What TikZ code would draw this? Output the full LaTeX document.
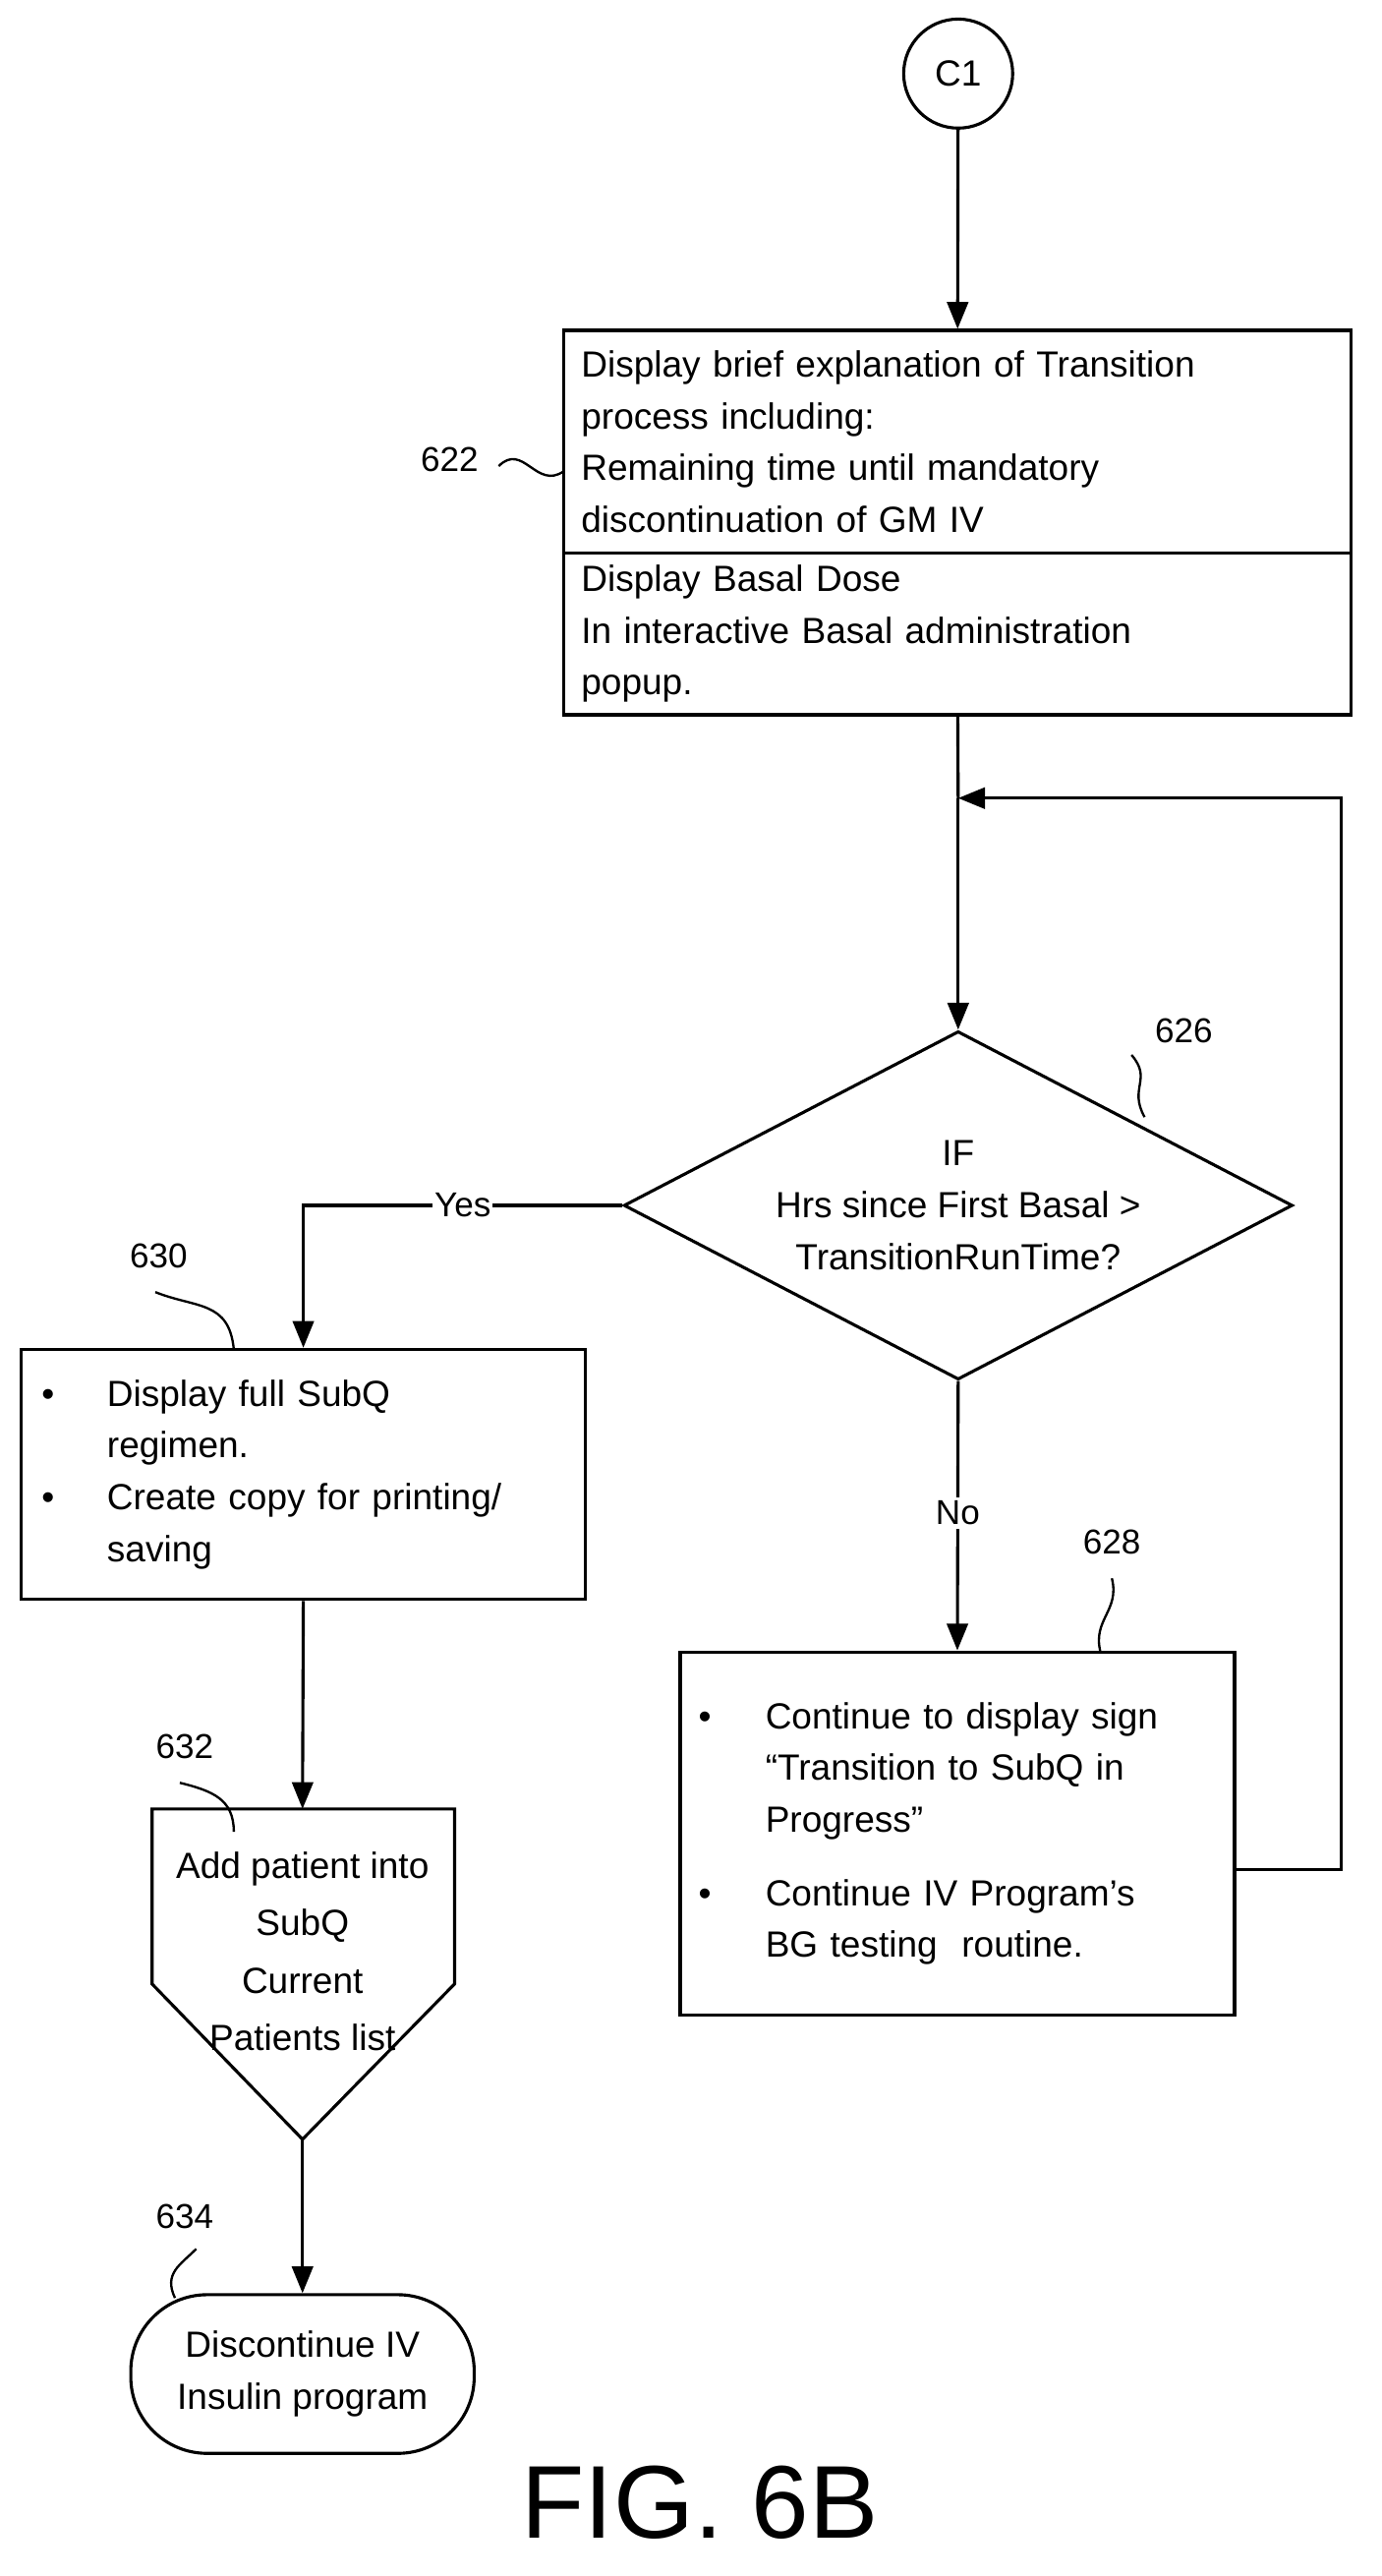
\documentclass[tikz,border=0pt]{standalone}
\usepackage{fontspec}
\setmainfont{Liberation Sans}
\usetikzlibrary{positioning}
\usetikzlibrary{arrows.meta}
\usetikzlibrary{shapes.geometric}
\tikzset{
  % plain process box
  procbox/.style={draw, line width=1.6pt, align=left, inner sep=0pt, font=\fontsize{19}{27}\selectfont},
  flow/.style={line width=1.6pt, -{Triangle[length=14pt,width=11pt]}},
  tag/.style={font=\fontsize{18}{22}\selectfont},
  squig/.style={line width=1.2pt},
}
\begin{document}
\begin{tikzpicture}[x=0.03cm, y=-0.03cm]
  \useasboundingbox (0,0) rectangle (845,1575);
  \node[draw, circle, line width=1.6pt, minimum size=2cm, font=\fontsize{19}{22}\selectfont] (c1) at (586,45) {C1};

  \node[procbox, minimum width=14.43cm, minimum height=4.08cm, text width=13.8cm] (info) at (585.5,270)
    {Display brief explanation of Transition\\process including:\\Remaining time until mandatory\\discontinuation of GM IV};
  \node[procbox, minimum width=14.43cm, minimum height=2.97cm, text width=13.8cm] (basal) at (585.5,387.5)
    {Display Basal Dose\\In interactive Basal administration\\popup.};

  \node[draw, diamond, line width=1.6pt, minimum width=12.27cm, minimum height=6.39cm, inner sep=0pt] (test) at (586,737) {};
  \node[align=center, font=\fontsize{19}{27}\selectfont] (testtxt) at (586,737) {IF\\Hrs since First Basal >\\TransitionRunTime?};

  \node[procbox, minimum width=10.35cm, minimum height=4.59cm, text width=9.6cm] (full) at (185.5,901.5)
    {\makebox[1.2cm][l]{\textbullet}Display full SubQ\\\makebox[1.2cm][l]{}regimen.\\
     \makebox[1.2cm][l]{\textbullet}Create copy for printing/\\\makebox[1.2cm][l]{}saving};
  \node[procbox, minimum width=10.17cm, minimum height=6.66cm, text width=9.5cm] (cont) at (585.5,1121)
    {\makebox[1.23cm][l]{\textbullet}Continue to display sign\\\makebox[1.23cm][l]{}“Transition to SubQ in\\\makebox[1.23cm][l]{}Progress”\\[0.4cm]
     \makebox[1.23cm][l]{\textbullet}Continue IV Program’s\\\makebox[1.23cm][l]{}BG testing\ \ routine.};

  % off-page shaped step
  \draw[line width=1.6pt] (93,1106) -- (278,1106) -- (278,1213) -- (185,1308) -- (93,1213) -- cycle;
  \coordinate (addtop) at (185,1106);
  \coordinate (addtip) at (185,1308);
  \node[align=center, font=\fontsize{19}{30}\selectfont] (add) at (185,1193) {Add patient into\\SubQ\\Current\\Patients list};

  \node[draw, line width=1.6pt, rounded corners=1.4cm, minimum width=6.3cm, minimum height=2.91cm, align=center,
    font=\fontsize{19}{27}\selectfont] (stop) at (185,1451.5) {Discontinue IV\\Insulin program};

  \coordinate (loop) at (586,488);
  \draw[flow] (c1) -- (info);
  \draw[line width=1.6pt] (basal) -- (loop);
  \draw[flow] (loop) -- (test.north);
  \draw[flow] (cont.east |- 0,1143) -| (820,488) -- (loop);
  \draw[flow] (test.west) -| node[pos=0.25, fill=white, inner sep=1pt, tag] {Yes} (full.north);
  \draw[flow] (test.south) -- node[pos=0.49, fill=white, inner sep=2pt, tag] {No} (cont.north);
  \draw[flow] (full.south) -- (addtop);
  \draw[flow] (addtip) -- (stop.north);

  % reference numerals
  \node[tag] (n622) at (275,281) {622};
  \draw[squig] (305,285) .. controls (320,270) and (328,300) .. (345,288);
  \node[tag] (n626) at (724,630) {626};
  \draw[squig] (700,683) .. controls (690,665) and (705,660) .. (692,645);
  \node[tag] (n630) at (97,768) {630};
  \draw[squig] (95,790) .. controls (120,800) and (140,795) .. (143,825);
  \node[tag] (n628) at (680,943) {628};
  \draw[squig] (673,1010) .. controls (668,990) and (685,985) .. (680,965);
  \node[tag] (n632) at (113,1068) {632};
  \draw[squig] (110,1090) .. controls (130,1095) and (143,1100) .. (143,1120);
  \node[tag] (n634) at (113,1355) {634};
  \draw[squig] (120,1375) .. controls (110,1385) and (100,1390) .. (107,1405);

  \node[font=\fontsize{54}{56}\selectfont] (fig) at (428,1530) {FIG. 6B};
\end{tikzpicture}
\end{document}
